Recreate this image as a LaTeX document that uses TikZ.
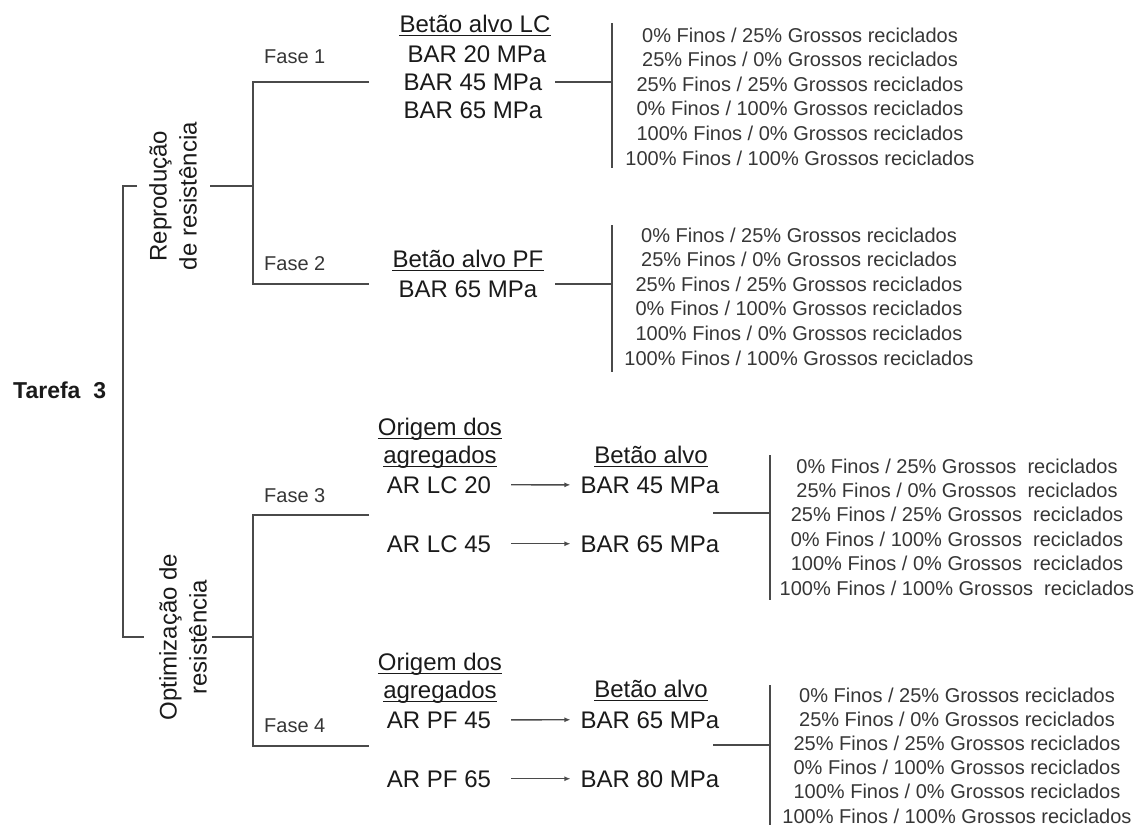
\documentclass[tikz,border=0pt]{standalone}
\usepackage{fontspec}
\setmainfont{Liberation Sans}
\usetikzlibrary{arrows.meta}
\definecolor{linec}{HTML}{4A4A4A}
\definecolor{txt}{HTML}{1A1A1A}
\definecolor{listc}{HTML}{363636}
\newcommand\mylist[5]{%
  \node[lst] (#1-1) at (#2,{#3}) {0\% Finos / 25\% Grossos#5reciclados};
  \node[lst] (#1-2) at (#2,{#3+#4}) {25\% Finos / 0\% Grossos#5reciclados};
  \node[lst] (#1-3) at (#2,{#3+2*#4}) {25\% Finos / 25\% Grossos#5reciclados};
  \node[lst] (#1-4) at (#2,{#3+3*#4}) {0\% Finos / 100\% Grossos#5reciclados};
  \node[lst] (#1-5) at (#2,{#3+4*#4}) {100\% Finos / 0\% Grossos#5reciclados};
  \node[lst] (#1-6) at (#2,{#3+5*#4}) {100\% Finos / 100\% Grossos#5reciclados};
}
\begin{document}
\begin{tikzpicture}[x=1pt,y=-1pt,
  conn/.style={draw=linec, line width=1.4pt},
  big/.style={inner sep=0, anchor=base, text=txt, font=\fontsize{24}{28}\selectfont},
  lst/.style={inner sep=0, anchor=base, text=listc, font=\fontsize{20}{24}\selectfont},
  fase/.style={inner sep=0, anchor=base west, text=listc, font=\fontsize{20}{24}\selectfont},
  rot/.style={inner sep=0, rotate=90, align=center, text=txt, font=\fontsize{24}{30}\selectfont},
  arr/.style={conn, -{Latex[length=6pt,width=5pt]}},
  ul/.style={draw=txt, line width=1.1pt}]
\useasboundingbox (0,0) rectangle (1144,825);

% root and branches
\node[inner sep=0, anchor=base west, text=txt, font=\bfseries\fontsize{23}{27}\selectfont] (tarefa) at (13,398) {Tarefa~~3};
\node[rot] (repro) at (173,196) {Reprodução\\de resistência};
\node[rot] (optim) at (183,637) {Optimização de\\resistência};

\node[fase] (fase1) at (264,63) {Fase 1};
\node[fase] (fase2) at (264,270) {Fase 2};
\node[fase] (fase3) at (264,502) {Fase 3};
\node[fase] (fase4) at (264,732) {Fase 4};

% Fase 1 group
\node[big] (f1h) at (475,32) {Betão alvo LC};
\node[big] (f1a) at (477,62) {BAR 20 MPa};
\node[big] (f1b) at (473,90) {BAR 45 MPa};
\node[big] (f1c) at (473,118) {BAR 65 MPa};
% Fase 2 group
\node[big] (f2h) at (468,267) {Betão alvo PF};
\node[big] (f2a) at (468,297) {BAR 65 MPa};
% Fase 3 group
\node[big] (f3h1) at (440,435) {Origem dos};
\node[big] (f3h2) at (440,463) {agregados};
\node[big] (f3a) at (439,493) {AR LC 20};
\node[big] (f3b) at (439,552) {AR LC 45};
\node[big] (f3t) at (651,463) {Betão alvo};
\node[big] (f3c) at (650,493) {BAR 45 MPa};
\node[big] (f3d) at (650,552) {BAR 65 MPa};
% Fase 4 group
\node[big] (f4h1) at (440,670) {Origem dos};
\node[big] (f4h2) at (440,698) {agregados};
\node[big] (f4a) at (439,728) {AR PF 45};
\node[big] (f4b) at (439,787) {AR PF 65};
\node[big] (f4t) at (651,697) {Betão alvo};
\node[big] (f4c) at (650,728) {BAR 65 MPa};
\node[big] (f4d) at (650,787) {BAR 80 MPa};

% underlines
\foreach \n in {f1h,f2h,f3h1,f3h2,f3t,f4h1,f4h2,f4t}
  \draw[ul] ([yshift=-3.5pt]\n.base west) -- ([yshift=-3.5pt]\n.base east);

% lists
\mylist{la}{800}{42}{24.6}{ }
\mylist{lb}{799}{242}{24.6}{ }
\mylist{lc}{957}{473}{24.4}{~ }
\mylist{ld}{957}{702}{24.2}{ }

% coordinates of the connectors
\coordinate (lbA) at (137,186);
\coordinate (lbB) at (123,186);
\coordinate (lbC) at (123,637);
\coordinate (lbD) at (144,637);
\coordinate (rA) at (210,186);
\coordinate (rB) at (253,186);
\coordinate (p1) at (369,82);
\coordinate (p1c) at (253,82);
\coordinate (p2c) at (253,284);
\coordinate (p2) at (369,284);
\coordinate (oA) at (212,637);
\coordinate (oB) at (253,637);
\coordinate (p3) at (369,515);
\coordinate (p3c) at (253,515);
\coordinate (p4c) at (253,746);
\coordinate (p4) at (369,746);

\coordinate (s1) at (555,82);   \coordinate (e1) at (612,82);
\coordinate (b1t) at (612,23);  \coordinate (b1b) at (612,168);
\coordinate (s2) at (555,284);  \coordinate (e2) at (612,284);
\coordinate (b2t) at (612,225); \coordinate (b2b) at (612,372);
\coordinate (s3) at (713,513);  \coordinate (e3) at (770,513);
\coordinate (b3t) at (770,455); \coordinate (b3b) at (770,600);
\coordinate (s4) at (713,745);  \coordinate (e4) at (770,745);
\coordinate (b4t) at (770,685); \coordinate (b4b) at (770,830);

% tree lines
\draw[conn] (lbA) -- (lbB) -- (lbC) -- (lbD);
\draw[conn] (rA) -- (rB);
\draw[conn] (p1) -- (p1c) -- (p2c) -- (p2);
\draw[conn] (oA) -- (oB);
\draw[conn] (p3) -- (p3c) -- (p4c) -- (p4);

\draw[conn] (s1) -- (e1);  \draw[conn] (b1t) -- (b1b);
\draw[conn] (s2) -- (e2);  \draw[conn] (b2t) -- (b2b);
\draw[conn] (s3) -- (e3);  \draw[conn] (b3t) -- (b3b);
\draw[conn] (s4) -- (e4);  \draw[conn] (b4t) -- (b4b);

% arrows
\draw[arr, shorten <=20pt, shorten >=10pt] (f3a.east) -- (f3c.west);
\draw[arr, shorten <=20pt, shorten >=10pt] (f3b.east) -- (f3d.west);
\draw[arr, shorten <=20pt, shorten >=10pt] (f4a.east) -- (f4c.west);
\draw[arr, shorten <=20pt, shorten >=10pt] (f4b.east) -- (f4d.west);
\end{tikzpicture}
\end{document}
